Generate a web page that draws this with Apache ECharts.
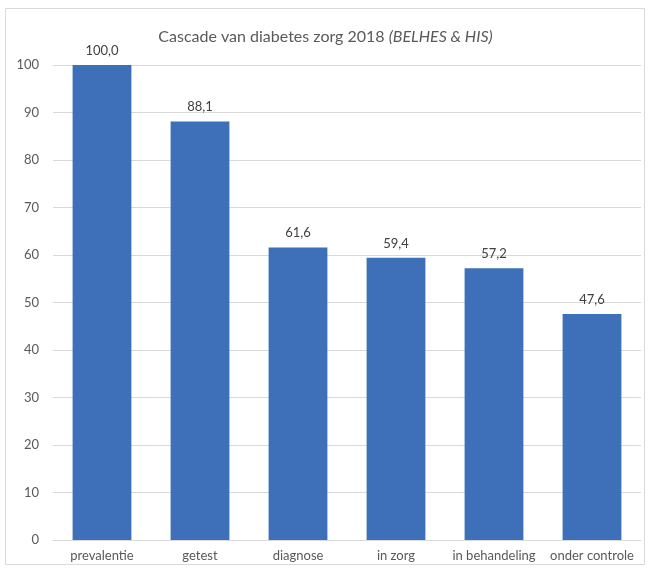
<!DOCTYPE html>
<html>
<head>
<meta charset="utf-8">
<script src="https://cdn.jsdelivr.net/npm/echarts@6/dist/echarts.min.js"></script>
<style>
    html, body { margin: 0; padding: 0; background: #fff; }
    #chart { width: 651px; height: 571px; }
</style>
</head>
<body>
<div id="chart"></div>
<script>
    var categories = ['prevalentie', 'getest', 'diagnose', 'in zorg', 'in behandeling', 'onder controle'];
    var values = [100.0, 88.1, 61.6, 59.4, 57.2, 47.6];

    var myChart = echarts.init(document.getElementById('chart'));
    var option = {
        textStyle: { fontFamily: 'Lato' },
        title: {
            text: '{a|Cascade van diabetes zorg 2018 }{b|(BELHES & HIS)}',
            left: 'center',
            top: 24,
            textStyle: {
                fontWeight: 'normal',
                rich: {
                    a: { fontSize: 16, color: '#595959', fontFamily: 'Lato', fontWeight: 'normal' },
                    b: { fontSize: 16, color: '#595959', fontFamily: 'Lato', fontWeight: 'normal', fontStyle: 'italic' }
                }
            }
        },
        graphic: [{
            type: 'rect',
            shape: { x: 5.5, y: 8.5, width: 639, height: 556 },
            style: { fill: 'none', stroke: '#d9d9d9', lineWidth: 1 }
        }],
        grid: { left: 53, right: 10, top: 65, bottom: 31 },
        xAxis: {
            type: 'category',
            data: categories,
            axisLine: { lineStyle: { color: '#d9d9d9' } },
            axisTick: { show: false },
            axisLabel: { color: '#595959', fontSize: 13, margin: 9, interval: 0 }
        },
        yAxis: {
            type: 'value',
            min: 0,
            max: 100,
            interval: 10,
            axisLine: { show: false },
            axisTick: { show: false },
            axisLabel: { color: '#595959', fontSize: 13, margin: 14 },
            splitLine: { lineStyle: { color: '#d9d9d9' } }
        },
        series: [{
            type: 'bar',
            data: values,
            barWidth: '60%',
            itemStyle: { color: '#3d70b8' },
            label: {
                show: true,
                position: 'top',
                distance: 8,
                color: '#404040',
                fontSize: 13,
                formatter: function (p) { return p.value.toFixed(1).replace('.', ','); }
            }
        }]
    };
    myChart.setOption(option);
</script>
</body>
</html>
